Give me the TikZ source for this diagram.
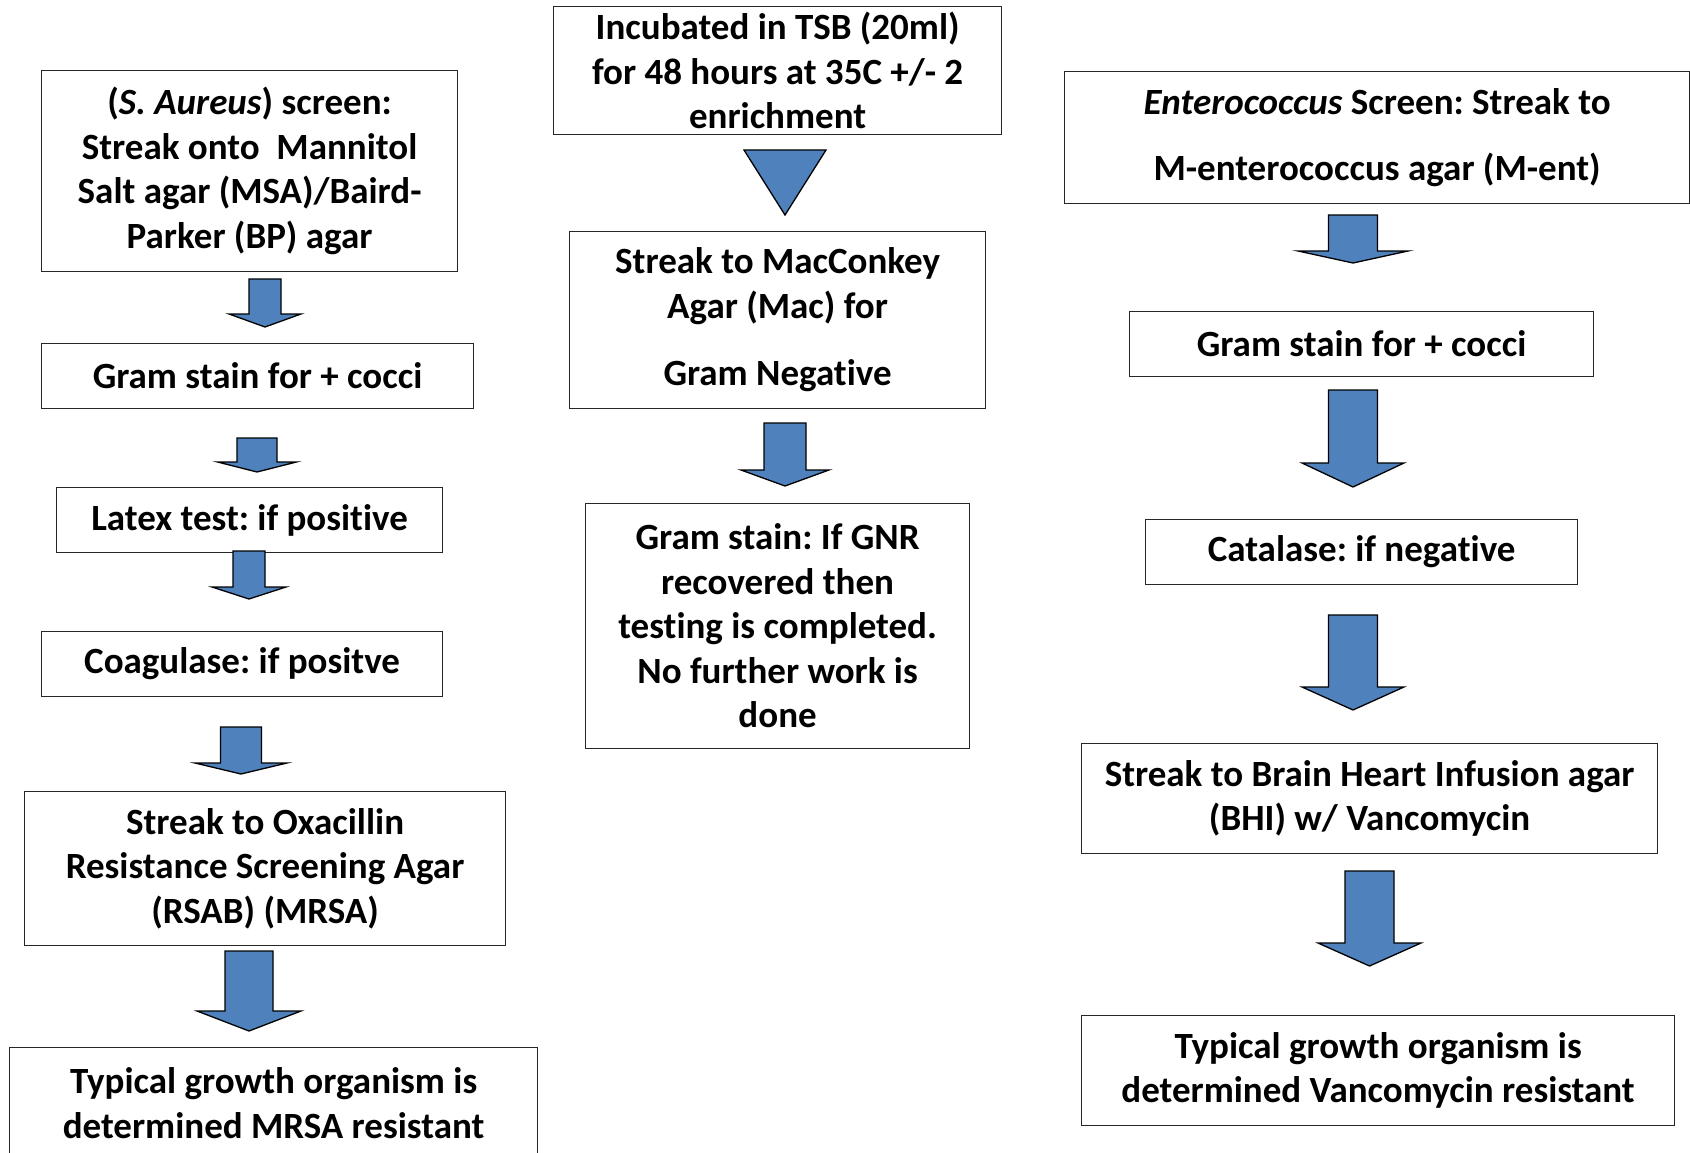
\documentclass[tikz,border=0pt]{standalone}
\usepackage{fontspec}
\setmainfont{Carlito}[Ligatures=NoCommon]
\usepackage{tikz}
\frenchspacing

\definecolor{arrowblue}{HTML}{4F81BD}

% block arrow: centre x, top, shaft half width, neck, wing half width, tip
\newcommand{\blockarrow}[6]{%
  \filldraw[fill=arrowblue, draw=black, line width=1.3pt]
    ({#1-#3},#2) -- ({#1+#3},#2) -- ({#1+#3},#4) -- ({#1+#5},#4) -- (#1,#6)
    -- ({#1-#5},#4) -- ({#1-#3},#4) -- cycle;}

\begin{document}
\begin{tikzpicture}[x=1pt, y=-1pt,
  stage/.style={rectangle, draw=black!85, line width=1.2pt, anchor=north west,
    align=center, inner sep=0pt, font=\fontsize{37}{44.5}\selectfont\bfseries}]
            \useasboundingbox (0,0) rectangle (1690,1153);

            % Nodes, left column
            \node[stage, minimum width=416pt, minimum height=201pt] (saScreen) at (41,70) {(\textit{S. Aureus}) screen:\\ Streak onto~ Mannitol\\ Salt agar (MSA)/Baird-\\ Parker (BP) agar};
            \node[stage, minimum width=432pt, minimum height=65pt] (saGram) at (41,343) {Gram stain for + cocci};
            \node[stage, minimum width=386pt, minimum height=65pt] (saLatex) at (56,487) {Latex test: if positive};
            \node[stage, minimum width=401pt, minimum height=65pt] (saCoag) at (41,631) {Coagulase: if positve};
            \node[stage, minimum width=481pt, minimum height=154pt] (saOxa) at (24,791) {Streak to Oxacillin\\ Resistance Screening Agar\\ (RSAB) (MRSA)};
            \node[stage, minimum width=528pt, minimum height=111pt] (saResult) at (9,1047) {Typical growth organism is\\ determined MRSA resistant};

            % Nodes, middle column
            \node[stage, minimum width=448pt, minimum height=128pt] (tsb) at (553,6) {Incubated in TSB (20ml)\\ for 48 hours at 35C +/- 2\\ enrichment};
            \node[stage, minimum width=416pt, minimum height=177pt] (mac) at (569,231) {Streak to MacConkey\\ Agar (Mac) for\\[23pt] Gram Negative};
            \node[stage, minimum width=384pt, minimum height=245pt] (gnr) at (585,503) {Gram stain: If GNR\\ recovered then\\ testing is completed.\\ No further work is\\ done};

            % Nodes, right column
            \node[stage, minimum width=625pt, minimum height=132pt] (entScreen) at (1064,71) {\textit{Enterococcus} Screen: Streak to\\[22pt] M-enterococcus agar (M-ent)};
            \node[stage, minimum width=464pt, minimum height=65pt] (entGram) at (1129,311) {Gram stain for + cocci};
            \node[stage, minimum width=432pt, minimum height=65pt] (entCat) at (1145,519) {Catalase: if negative};
            \node[stage, minimum width=576pt, minimum height=110pt] (entBhi) at (1081,743) {Streak to Brain Heart Infusion agar\\ (BHI) w/ Vancomycin};
            \node[stage, minimum width=593pt, minimum height=110pt] (entResult) at (1081,1015) {Typical growth organism is\\ determined Vancomycin resistant};

            % Arrows
            \blockarrow{265}{279}{16}{314}{36}{327}
            \blockarrow{257}{438}{20}{462}{39.5}{472}
            \blockarrow{249}{551}{16}{587}{37}{599}
            \blockarrow{241}{727}{20.5}{763}{46}{774}
            \blockarrow{249}{951}{24}{1011}{52}{1031}
            \filldraw[fill=arrowblue, draw=black, line width=1.3pt] (744,150) -- (826,150) -- (785,215) -- cycle;
            \blockarrow{785}{423}{21}{470}{44}{486}
            \blockarrow{1353}{215}{24.5}{251}{55}{263}
            \blockarrow{1353}{390}{24.5}{463}{51}{487}
            \blockarrow{1353}{615}{24.5}{687}{51}{710}
            \blockarrow{1369.5}{871}{24.5}{943}{51.5}{966}
        \end{tikzpicture}
\end{document}
